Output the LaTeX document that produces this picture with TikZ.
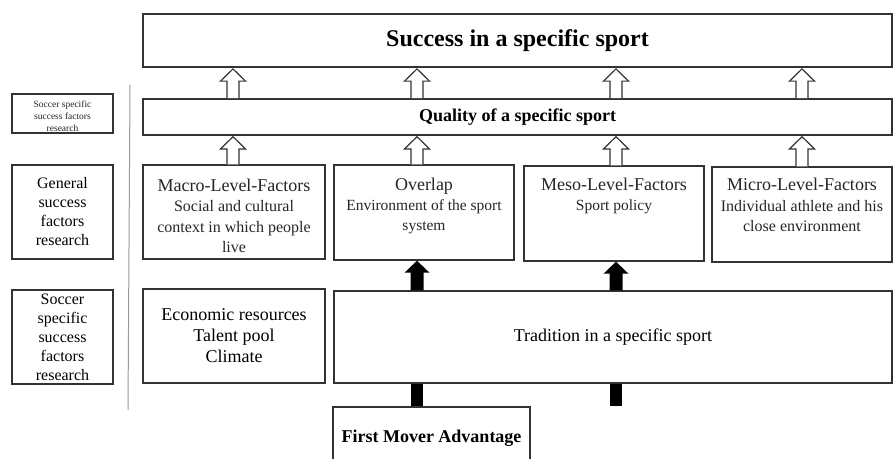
\documentclass[tikz,border=0pt]{standalone}
\usepackage{fontspec}
\setmainfont{Liberation Serif}
\usetikzlibrary{calc}
\definecolor{edgecol}{HTML}{333333}
\definecolor{rulecol}{HTML}{9A9A9A}
\newcommand\fsz[2]{\fontsize{#1}{#2}\selectfont}
% hollow up-arrow from point #1 (bottom) to point #2 (tip)
\newcommand\hollowup[2]{%
  \draw[harrow] let \p1=(#1), \p2=(#2) in
    (\x1-6pt,\y1) -- (\x1-6pt,\y2-13pt) -- (\x1-12.5pt,\y2-13pt) -- (\x1,\y2-0.8pt)
    -- (\x1+12.5pt,\y2-13pt) -- (\x1+6pt,\y2-13pt) -- (\x1+6pt,\y1);}
% solid black up-arrow
\newcommand\solidup[2]{%
  \fill[black] let \p1=(#1), \p2=(#2) in
    (\x1-6.5pt,\y1) -- (\x1-6.5pt,\y2-12pt) -- (\x1-12.5pt,\y2-12pt) -- (\x1,\y2)
    -- (\x1+12.5pt,\y2-12pt) -- (\x1+6.5pt,\y2-12pt) -- (\x1+6.5pt,\y1) -- cycle;}
% solid black bar between two points
\newcommand\solidbar[2]{%
  \fill[black] let \p1=(#1), \p2=(#2) in (\x1-6pt,\y1) rectangle (\x1+6pt,\y2);}
\begin{document}
\begin{tikzpicture}[x=1pt,y=-1pt,
  box/.style={draw=edgecol, line width=1.4pt, fill=white, inner sep=0pt},
  labbox/.style={draw=edgecol, line width=1.1pt, fill=white, inner sep=0pt},
  txt/.style={inner sep=0pt, align=center, text=black!85},
  harrow/.style={draw=edgecol, line width=1.2pt, fill=white, line join=miter}]
\useasboundingbox (0,0) rectangle (894,458);
\fill[white] (0,0) rectangle (894,458);
\clip (0,0) rectangle (894,458);

% column coordinates for the arrows
\coordinate (c1) at (233,0);
\coordinate (c2) at (417,0);
\coordinate (c3) at (616,0);
\coordinate (c4) at (802,0);

% top boxes
\node[box, line width=2.2pt, minimum width=749, minimum height=53,
      font=\fsz{24}{26}\bfseries] (success) at (517.5,40.5) {Success in a specific sport};
\node[box, line width=1.8pt, minimum width=749, minimum height=36,
      font=\fsz{18}{20}\bfseries] (quality) at (517.5,117) {Quality of a specific sport};

% middle row boxes
\node[box, minimum width=182, minimum height=94] (macro) at (234,212) {};
\node[box, minimum width=180, minimum height=95] (overlap) at (424,212.5) {};
\node[box, minimum width=180, minimum height=95] (meso) at (614,213.5) {};
\node[box, minimum width=180, minimum height=95] (micro) at (802,214.5) {};

\node[txt, anchor=north, font=\fsz{16}{20.5}] (macrot) at ($(macro.north)+(0,14.5)$)
  {{\fsz{18}{20}Macro-Level-Factors}\\Social and cultural\\context in which people\\live};
\node[txt, anchor=north, font=\fsz{15.5}{20}] (overlapt) at ($(overlap.north)+(0,13.5)$)
  {{\fsz{18}{20}Overlap}\\Environment of the sport\\system};
\node[txt, anchor=north, font=\fsz{15.5}{20}] (mesot) at ($(meso.north)+(0,12.5)$)
  {{\fsz{18}{20}Meso-Level-Factors}\\Sport policy};
\node[txt, anchor=north, font=\fsz{16}{20.5}] (microt) at ($(micro.north)+(0,12)$)
  {{\fsz{18}{20}Micro-Level-Factors}\\Individual athlete and his\\close environment};

% bottom row boxes
\node[box, minimum width=182, minimum height=94, align=center, font=\fsz{18}{21}] (econ) at (234,336)
  {\rule{0pt}{3pt}Economic resources\\Talent pool\\Climate};
\node[box, minimum width=558, minimum height=92, font=\fsz{18}{20}] (tradition) at (613,337)
  {Tradition in a specific sport};
\node[box, line width=1.8pt, minimum width=197, minimum height=63, font=\fsz{18}{20}\bfseries] (first) at (431.5,438.5)
  {First Mover Advantage};

% left labels
\node[labbox, minimum width=101, minimum height=39] (lab1) at (62.5,113.5) {};
\node[txt, font=\fsz{9.5}{12}] (lab1t) at ($(lab1.center)+(0,2.5)$) {Soccer specific\\success factors\\research};
\node[labbox, minimum width=101, minimum height=94, align=center, font=\fsz{16}{19}] (lab2) at (62.5,212)
  {General\\success\\factors\\research};
\node[labbox, minimum width=101, minimum height=94, align=center, font=\fsz{16}{19}] (lab3) at (62.5,337)
  {Soccer\\specific\\success\\factors\\research};

% separator line
\coordinate (sepT) at (130,85);
\coordinate (sepB) at (128,410);
\draw[rulecol, line width=1pt] (sepT) -- (sepB);

% hollow arrows quality -> success
\foreach \c in {c1,c2,c3,c4} { \hollowup{\c |- quality.north}{\c |- success.south} }
% hollow arrows factor boxes -> quality
\hollowup{c1 |- macro.north}{c1 |- quality.south}
\hollowup{c2 |- overlap.north}{c2 |- quality.south}
\hollowup{c3 |- meso.north}{c3 |- quality.south}
\hollowup{c4 |- micro.north}{c4 |- quality.south}

% solid arrows tradition -> overlap / meso
\solidup{c2 |- tradition.north}{c2 |- overlap.south}
\solidup{c3 |- tradition.north}{c3 |- meso.south}
% solid bars first mover -> tradition
\solidbar{c2 |- first.north}{c2 |- tradition.south}
\solidbar{c3 |- first.north}{c3 |- tradition.south}
\end{tikzpicture}
\end{document}
